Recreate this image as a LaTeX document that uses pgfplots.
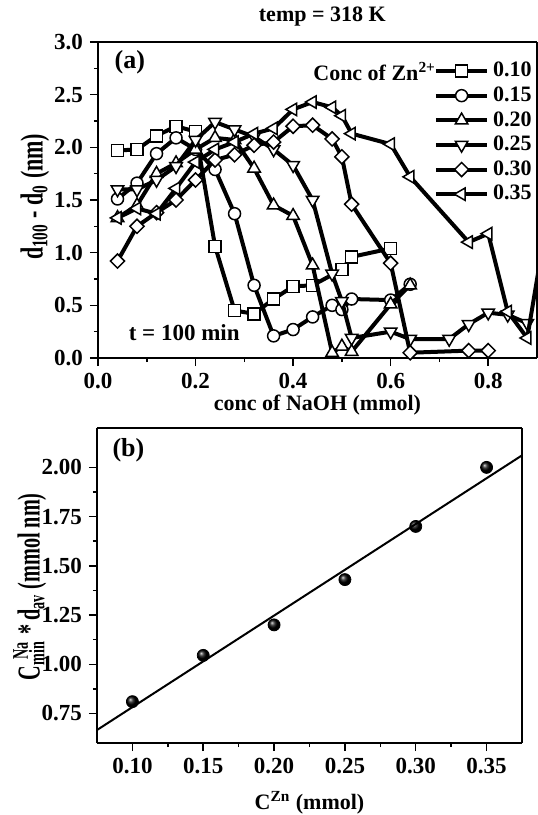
\documentclass[border=0pt]{standalone}
\usepackage{pgfplots}
\pgfplotsset{compat=1.18}
\usepackage{fontspec}
\setmainfont{Liberation Serif}

\pgfplotsset{
  panel/.style={
    scale only axis,
    axis x line*=bottom, axis y line*=left,
    separate axis lines,
    every outer x axis line/.append style={line width=1pt},
    every outer y axis line/.append style={line width=1pt},
    tick align=outside,
    major tick length=4pt, minor tick length=2pt,
    every tick/.style={black, line width=0.75pt},
    tick label style={font=\fontsize{11.5}{13}\selectfont\bfseries},
    label style={font=\fontsize{11}{13}\selectfont\bfseries},
    /pgf/number format/assume math mode=true,
    clip mode=individual,
  },
  curve/.style={black, line width=2pt, mark size=3pt,
    mark options={fill=white, line width=0.75pt, solid}},
}

\begin{document}
\begin{tikzpicture}
\path[use as bounding box] (-49pt,-228.5pt) rectangle (219.5pt,179pt);

% (a) top panel
\begin{axis}[panel,
  at={(0pt,0pt)}, anchor=origin,
  width=219.5pt, height=158pt,
  xmin=0, xmax=0.9, ymin=0, ymax=3,
  xtick={0,0.2,0.4,0.6,0.8}, minor x tick num=1,
  ytick={0,0.5,1,1.5,2,2.5,3}, minor y tick num=1,
  xticklabel style={/pgf/number format/.cd, fixed, fixed zerofill, precision=1},
  yticklabel style={/pgf/number format/.cd, fixed, fixed zerofill, precision=1},
  xlabel={conc of NaOH (mmol)},
  ylabel={\scalebox{1}[1.45]{d\textsubscript{100} - d\textsubscript{0} (nm)}},
  x label style={at={(axis description cs:0.5,-0.149)}, anchor=center},
  y label style={at={(axis description cs:-0.1435,0.51)}, anchor=center},
  legend style={draw=none, fill=none, at={(axis description cs:0.998,0.95)},
    anchor=north east, font=\fontsize{11}{13}\selectfont\bfseries,
    row sep=-0.5pt, inner sep=0pt},
  legend cell align=left,
  legend image code/.code={\draw[mark repeat=2, mark phase=2]
    plot coordinates {(0cm,0cm) (0.45cm,0cm) (0.9cm,0cm)};},
]
% frame on the top and right
\draw[line width=1pt] (rel axis cs:1,0) -- (rel axis cs:1,1);
\draw[line width=1pt] (rel axis cs:0,1) -- (rel axis cs:1,1);

\addplot[curve, mark=square*] coordinates {
(0.04,1.97) (0.08,1.98) (0.12,2.11) (0.16,2.20) (0.20,2.15) (0.24,1.06)
(0.28,0.45) (0.32,0.42) (0.36,0.56) (0.40,0.68) (0.44,0.69) (0.50,0.84)
(0.52,0.96) (0.60,1.04)};
\addlegendentry{0.10}
\addplot[curve, mark=*] coordinates {
(0.04,1.51) (0.08,1.66) (0.12,1.94) (0.16,2.09) (0.20,1.98) (0.24,1.79)
(0.28,1.37) (0.32,0.69) (0.36,0.21) (0.40,0.27) (0.44,0.39) (0.48,0.50)
(0.50,0.46) (0.52,0.56) (0.60,0.55) (0.64,0.70)};
\addlegendentry{0.15}
\addplot[curve, mark=triangle*, mark size=3.6pt] coordinates {
(0.04,1.33) (0.08,1.45) (0.12,1.75) (0.16,1.85) (0.20,1.98) (0.24,2.09)
(0.28,2.07) (0.32,1.80) (0.36,1.45) (0.40,1.35) (0.44,0.88) (0.48,0.05)
(0.50,0.11) (0.52,0.06) (0.60,0.51) (0.64,0.69)};
\addlegendentry{0.20}
\addplot[curve, mark=triangle*, mark size=3.6pt,
  mark options={fill=white, line width=0.75pt, solid, rotate=180}] coordinates {
(0.04,1.60) (0.08,1.60) (0.12,1.69) (0.16,1.82) (0.20,2.07) (0.24,2.24)
(0.28,2.17) (0.32,2.10) (0.36,1.98) (0.40,1.83) (0.44,1.50) (0.48,0.80)
(0.50,0.54) (0.52,0.19) (0.60,0.25) (0.64,0.18) (0.72,0.18) (0.76,0.32)
(0.80,0.43) (0.84,0.41) (0.88,0.33)};
\addlegendentry{0.25}
\addplot[curve, mark=square*, mark size=2.5pt,
  mark options={fill=white, line width=0.75pt, solid, rotate=45}] coordinates {
(0.04,0.92) (0.08,1.25) (0.12,1.38) (0.16,1.50) (0.20,1.69) (0.24,1.88)
(0.28,1.93) (0.32,2.02) (0.36,2.05) (0.40,2.20) (0.44,2.21) (0.48,2.08)
(0.50,1.91) (0.52,1.46) (0.60,0.90) (0.64,0.05) (0.76,0.07) (0.80,0.07)};
\addlegendentry{0.30}
\addplot[curve, mark=triangle*, mark size=3.6pt,
  mark options={fill=white, line width=0.75pt, solid, rotate=90}] coordinates {
(0.04,1.33) (0.08,1.42) (0.12,1.37) (0.16,1.61) (0.20,1.86) (0.24,1.98)
(0.28,2.05) (0.32,2.13) (0.36,2.18) (0.40,2.36) (0.44,2.43) (0.48,2.38)
(0.50,2.30) (0.52,2.13) (0.60,2.03) (0.64,1.72) (0.76,1.10) (0.80,1.18)
(0.84,0.44) (0.88,0.19) (0.92,1.30)};
\addlegendentry{0.35}

\node[anchor=west, font=\fontsize{13}{15}\selectfont\bfseries] at (rel axis cs:0.022,0.937) {(a)};
\node[anchor=west, font=\fontsize{11.5}{13}\selectfont\bfseries] at (rel axis cs:0.054,0.079) {t = 100 min};
\node[anchor=east, font=\fontsize{11}{13}\selectfont\bfseries] at (rel axis cs:0.786,0.906) {Conc of Zn\textsuperscript{2+}};
\node[font=\fontsize{11}{13}\selectfont\bfseries] at (rel axis cs:0.511,1.082) {temp = 318 K};
\end{axis}

% (b) bottom panel
\begin{axis}[panel,
  at={(-0.5pt,-192.5pt)}, anchor=origin,
  width=212.5pt, height=157.5pt,
  xmin=0.075, xmax=0.375, ymin=0.6, ymax=2.2,
  xtick={0.10,0.15,0.20,0.25,0.30,0.35}, minor x tick num=1,
  ytick={0.75,1.00,1.25,1.50,1.75,2.00}, minor y tick num=1,
  xticklabel style={/pgf/number format/.cd, fixed, fixed zerofill, precision=2},
  yticklabel style={/pgf/number format/.cd, fixed, fixed zerofill, precision=2},
  xlabel={C\textsuperscript{Zn} (mmol)},
  ylabel={\scalebox{0.92}[1.45]{C\textsubscript{min}\llap{\textsuperscript{Na}}\,\,*\,d\textsubscript{av} (mmol nm)}},
  x label style={at={(axis description cs:0.5,-0.19)}, anchor=center},
  y label style={at={(axis description cs:-0.158,0.496)}, anchor=center},
]
\draw[line width=1pt] (rel axis cs:1,0) -- (rel axis cs:1,1);
\draw[line width=1pt] (rel axis cs:0,1) -- (rel axis cs:1,1);
\addplot[only marks, mark=ball, mark size=3pt, mark options={ball color=black}] coordinates {
(0.10,0.81) (0.15,1.045) (0.20,1.20) (0.25,1.43) (0.30,1.70) (0.35,2.00)};
\addplot[black, line width=1pt] coordinates {(0.075,0.666) (0.375,2.061)};
\node[anchor=west, font=\fontsize{13}{15}\selectfont\bfseries] at (rel axis cs:0.02,0.93) {(b)};
\end{axis}
\end{tikzpicture}
\end{document}
